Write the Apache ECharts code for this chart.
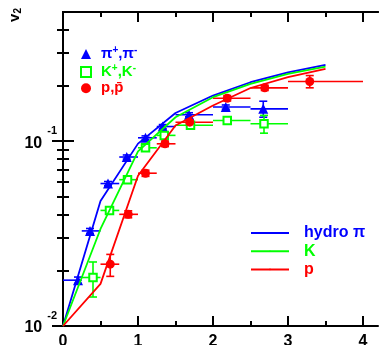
<!DOCTYPE html>
<html>
<head>
<meta charset="utf-8">
<script src="https://cdn.jsdelivr.net/npm/echarts@6/dist/echarts.min.js"></script>
<style>
  html, body { margin: 0; padding: 0; background: #fff; }
  #chart { width: 389px; height: 345px; }
</style>
</head>
<body>
<div id="chart"></div>
<script>
// pi+, pi-
const piX = [0.20, 0.36, 0.60, 0.85, 1.10, 1.33, 1.68, 2.17, 2.67];
const piV2 = [0.0177, 0.0327, 0.0590, 0.0821, 0.1043, 0.1200, 0.1390, 0.1530, 0.1496];
const piXlo = [0, 0.25, 0.5, 0.75, 1.0, 1.25, 1.5, 2.0, 2.5];
const piXhi = [0.25, 0.5, 0.75, 1.0, 1.25, 1.5, 2.0, 2.5, 3.0];
const piYlo = [0.0170, 0.0317, 0.0575, 0.0800, 0.1018, 0.1170, 0.1355, 0.1490, 0.1348];
const piYhi = [0.0184, 0.0337, 0.0605, 0.0842, 0.1068, 0.1230, 0.1425, 0.1570, 0.1645];

// K+, K-
const kX = [0.40, 0.62, 0.86, 1.10, 1.35, 1.70, 2.19, 2.68];
const kV2 = [0.0183, 0.0422, 0.0619, 0.0921, 0.1075, 0.1219, 0.1294, 0.1242];
const kXlo = [0.25, 0.5, 0.75, 1.0, 1.25, 1.5, 2.0, 2.5];
const kXhi = [0.5, 0.75, 1.0, 1.25, 1.5, 2.0, 2.5, 3.0];
const kYlo = [0.01435, 0.0405, 0.0595, 0.0890, 0.1040, 0.1180, 0.1250, 0.1105];
const kYhi = [0.0222, 0.0440, 0.0643, 0.0952, 0.1110, 0.1258, 0.1338, 0.1379];

// p, pbar
const pX = [0.63, 0.87, 1.10, 1.36, 1.69, 2.19, 2.69, 3.29];
const pV2 = [0.0216, 0.0402, 0.0671, 0.0968, 0.1267, 0.1708, 0.1944, 0.2102];
const pXlo = [0.5, 0.75, 1.0, 1.25, 1.5, 2.0, 2.5, 3.0];
const pXhi = [0.75, 1.0, 1.25, 1.5, 2.0, 2.5, 3.0, 4.0];
const pYlo = [0.01856, 0.0385, 0.0645, 0.0935, 0.1225, 0.1650, 0.1880, 0.1944];
const pYhi = [0.0244, 0.0420, 0.0697, 0.1001, 0.1309, 0.1766, 0.2008, 0.2265];

// hydro curves
const hydroX = [0, 0.5, 1.0, 1.5, 2.0, 2.5, 3.0, 3.5];
const hydroPi = [0.01, 0.0475, 0.097, 0.142, 0.1766, 0.2084, 0.236, 0.259];
const hydroK = [0.01, 0.0335, 0.088, 0.1348, 0.173, 0.204, 0.231, 0.2535];
const hydroP = [0.01, 0.0169, 0.065, 0.1216, 0.156, 0.194, 0.222, 0.246];

// axis ticks / labels
const xMajor = [0, 1, 2, 3, 4];
const xMinor = [0.5, 1.5, 2.5, 3.5];
const yMajor = [0.01, 0.1];
const yMinor = [0.02, 0.03, 0.04, 0.05, 0.06, 0.07, 0.08, 0.09, 0.2, 0.3, 0.4];

const BLUE = '#0000ff', GREEN = '#00ff00', RED = '#ff0000';
const FONT = 'Liberation Sans';
const PI_NAME = 'π+,π-', K_NAME = 'K+,K-', P_NAME = 'p,pbar';

const zip = (...cols) => cols[0].map((_, i) => cols.map(c => c[i]));

function errItem(params, api) {
  const x = api.value(0), y = api.value(1);
  const l = api.coord([api.value(2), y]);
  const r = api.coord([api.value(3), y]);
  const lo = api.coord([x, api.value(4)]);
  const hi = api.coord([x, api.value(5)]);
  const style = { stroke: api.visual('color'), lineWidth: 1.6 };
  const seg = (a, b) => ({ type: 'line', shape: { x1: a[0], y1: a[1], x2: b[0], y2: b[1] }, style });
  return {
    type: 'group',
    children: [
      seg(l, r),
      seg(lo, hi),
      seg([lo[0] - 4, lo[1]], [lo[0] + 4, lo[1]]),
      seg([hi[0] - 4, hi[1]], [hi[0] + 4, hi[1]])
    ]
  };
}

function xAx(position, ticks, len, labels) {
  return {
    type: 'value', min: 0, max: 4.2, position,
    splitLine: { show: false },
    axisLine: { show: !!labels || position === 'top', lineStyle: { color: '#000', width: 2 } },
    axisTick: { inside: true, length: len, customValues: ticks, lineStyle: { color: '#000', width: 2 } },
    axisLabel: labels ? {
      customValues: ticks, margin: 8, color: '#000',
      fontFamily: FONT, fontWeight: 'bold', fontSize: 16
    } : { show: false }
  };
}

function yAx(position, ticks, len, labels) {
  return {
    type: 'log', logBase: 10, min: 0.01, max: 0.5, position,
    splitLine: { show: false },
    axisLine: { show: true, lineStyle: { color: '#000', width: 2 } },
    axisTick: { inside: true, length: len, customValues: ticks, lineStyle: { color: '#000', width: 2 } },
    axisLabel: labels ? {
      customValues: ticks, margin: 6, color: '#000', padding: [4, 0, 0, 0],
      formatter: v => '{b|10}{e|' + Math.round(Math.log10(v)) + '}',
      rich: {
        b: { fontFamily: FONT, fontWeight: 'bold', fontSize: 16, lineHeight: 36 },
        e: { fontFamily: FONT, fontWeight: 'bold', fontSize: 11, lineHeight: 11, verticalAlign: 'top', padding: [0, 0, 0, 5] }
      }
    } : { show: false }
  };
}

const legendText = {
  [PI_NAME]: '{t|π}{u|+}{t|,π}{u|-}',
  [K_NAME]: '{t|K}{u|+}{t|,K}{u|-}',
  [P_NAME]: '{t|p,p\u0304}'
};

const chart = echarts.init(document.getElementById('chart'), null, { renderer: 'canvas' });
chart.setOption({
  animation: false,
  backgroundColor: '#fff',
  grid: { left: 63, top: 12, width: 315, height: 314, containLabel: false, outerBoundsMode: 'none' },
  xAxis: [
    xAx('bottom', xMajor, 10, true),
    xAx('bottom', xMinor, 5, false),
    xAx('top', xMajor, 10, false),
    xAx('top', xMinor, 5, false)
  ],
  yAxis: [
    yAx('left', yMajor, 11, true),
    yAx('left', yMinor, 6, false),
    yAx('right', yMajor, 11, false),
    yAx('right', yMinor, 6, false)
  ],
  legend: [
    {
      left: 80, top: 45, orient: 'vertical', padding: 0, itemGap: 1.4,
      itemWidth: 10, itemHeight: 10,
      data: [
        { name: PI_NAME, textStyle: { color: BLUE } },
        { name: K_NAME, textStyle: { color: GREEN } },
        { name: P_NAME, textStyle: { color: RED } }
      ],
      formatter: n => legendText[n],
      textStyle: {
        padding: [0, 0, 0, 5],
        rich: {
          t: { fontFamily: FONT, fontWeight: 'bold', fontSize: 15, lineHeight: 18 },
          u: { fontFamily: FONT, fontWeight: 'bold', fontSize: 10, lineHeight: 10, verticalAlign: 'top' }
        }
      }
    },
    {
      left: 250, top: 224, orient: 'vertical', padding: 0, itemGap: 0.2,
      itemWidth: 38, itemHeight: 2,
      data: [
        { name: 'hydro π', textStyle: { color: BLUE } },
        { name: 'K', textStyle: { color: GREEN } },
        { name: 'p', textStyle: { color: RED } }
      ],
      textStyle: { fontFamily: FONT, fontWeight: 'bold', fontSize: 16, lineHeight: 18, padding: [0, 0, 0, 10] }
    }
  ],
  graphic: [{
    type: 'text', left: 7, top: 8, rotation: Math.PI / 2,
    style: {
      text: '{v|v}{s|2}',
      rich: {
        v: { fontFamily: FONT, fontWeight: 'bold', fontSize: 15, lineHeight: 18, fill: '#000' },
        s: { fontFamily: FONT, fontWeight: 'bold', fontSize: 10, lineHeight: 10, verticalAlign: 'bottom', fill: '#000' }
      }
    }
  }],
  series: [
    { name: 'errPi', type: 'custom', renderItem: errItem, itemStyle: { color: BLUE }, encode: { x: 0, y: 1 },
      data: zip(piX, piV2, piXlo, piXhi, piYlo, piYhi), z: 2 },
    { name: 'errK', type: 'custom', renderItem: errItem, itemStyle: { color: GREEN }, encode: { x: 0, y: 1 },
      data: zip(kX, kV2, kXlo, kXhi, kYlo, kYhi), z: 2 },
    { name: 'errP', type: 'custom', renderItem: errItem, itemStyle: { color: RED }, encode: { x: 0, y: 1 },
      data: zip(pX, pV2, pXlo, pXhi, pYlo, pYhi), z: 2 },
    { name: PI_NAME, type: 'scatter', symbol: 'triangle', symbolSize: 10, itemStyle: { color: BLUE, opacity: 1 },
      data: zip(piX, piV2), z: 3 },
    { name: K_NAME, type: 'scatter', symbol: 'rect', symbolSize: 7.5,
      itemStyle: { color: '#fff', borderColor: GREEN, borderWidth: 2, opacity: 1 }, data: zip(kX, kV2), z: 3 },
    { name: P_NAME, type: 'scatter', symbol: 'circle', symbolSize: 9, itemStyle: { color: RED, opacity: 1 },
      data: zip(pX, pV2), z: 3 },
    { name: 'hydro π', type: 'line', symbol: 'none', legendIcon: 'rect', lineStyle: { color: BLUE, width: 1.8 },
      itemStyle: { color: BLUE }, data: zip(hydroX, hydroPi), z: 4 },
    { name: 'K', type: 'line', symbol: 'none', legendIcon: 'rect', lineStyle: { color: GREEN, width: 1.8 },
      itemStyle: { color: GREEN }, data: zip(hydroX, hydroK), z: 4 },
    { name: 'p', type: 'line', symbol: 'none', legendIcon: 'rect', lineStyle: { color: RED, width: 1.8 },
      itemStyle: { color: RED }, data: zip(hydroX, hydroP), z: 4 }
  ]
});
</script>
</body>
</html>
